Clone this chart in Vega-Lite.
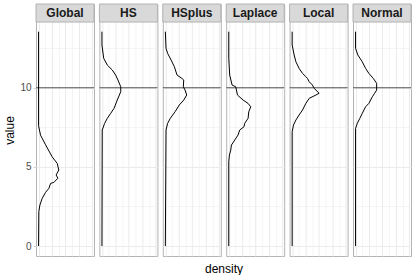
{
  "$schema": "https://vega.github.io/schema/vega-lite/v6.json",
  "padding": {"left": 3, "top": 3, "right": 3, "bottom": 0},
  "bounds": "flush",
  "background": "white",
  "config": {
    "font": "Liberation Sans",
    "view": {"stroke": "#B3B3B3", "strokeWidth": 1}
  },
  "data": {"values": [
    {"panel":"Global","value":13.54,"density":0},
    {"panel":"Global","value":7.6,"density":0},
    {"panel":"Global","value":7.0,"density":0.015},
    {"panel":"Global","value":6.4,"density":0.052},
    {"panel":"Global","value":5.64,"density":0.101},
    {"panel":"Global","value":5.22,"density":0.139},
    {"panel":"Global","value":4.8,"density":0.151},
    {"panel":"Global","value":4.49,"density":0.131},
    {"panel":"Global","value":4.28,"density":0.144},
    {"panel":"Global","value":4.02,"density":0.114},
    {"panel":"Global","value":3.96,"density":0.09},
    {"panel":"Global","value":3.64,"density":0.077},
    {"panel":"Global","value":3.39,"density":0.052},
    {"panel":"Global","value":3.01,"density":0.027},
    {"panel":"Global","value":2.59,"density":0.01},
    {"panel":"Global","value":2.17,"density":0.002},
    {"panel":"Global","value":0,"density":0},
    {"panel":"HS","value":13.54,"density":0},
    {"panel":"HS","value":12.7,"density":0},
    {"panel":"HS","value":11.86,"density":0.013},
    {"panel":"HS","value":11.43,"density":0.04},
    {"panel":"HS","value":11.12,"density":0.077},
    {"panel":"HS","value":10.8,"density":0.102},
    {"panel":"HS","value":10.49,"density":0.119},
    {"panel":"HS","value":10.06,"density":0.14},
    {"panel":"HS","value":9.75,"density":0.14},
    {"panel":"HS","value":9.22,"density":0.114},
    {"panel":"HS","value":8.7,"density":0.09},
    {"panel":"HS","value":8.38,"density":0.065},
    {"panel":"HS","value":8.07,"density":0.04},
    {"panel":"HS","value":7.75,"density":0.02},
    {"panel":"HS","value":7.33,"density":0.002},
    {"panel":"HS","value":0,"density":0},
    {"panel":"HSplus","value":13.54,"density":0},
    {"panel":"HSplus","value":12.49,"density":0.005},
    {"panel":"HSplus","value":12.17,"density":0.017},
    {"panel":"HSplus","value":11.75,"density":0.043},
    {"panel":"HSplus","value":11.33,"density":0.067},
    {"panel":"HSplus","value":10.8,"density":0.087},
    {"panel":"HSplus","value":10.63,"density":0.117},
    {"panel":"HSplus","value":10.49,"density":0.137},
    {"panel":"HSplus","value":10.06,"density":0.134},
    {"panel":"HSplus","value":9.85,"density":0.147},
    {"panel":"HSplus","value":9.54,"density":0.159},
    {"panel":"HSplus","value":9.22,"density":0.137},
    {"panel":"HSplus","value":8.91,"density":0.104},
    {"panel":"HSplus","value":8.48,"density":0.072},
    {"panel":"HSplus","value":8.07,"density":0.037},
    {"panel":"HSplus","value":7.75,"density":0.017},
    {"panel":"HSplus","value":7.33,"density":0.005},
    {"panel":"HSplus","value":0,"density":0},
    {"panel":"Laplace","value":13.54,"density":0},
    {"panel":"Laplace","value":11.86,"density":0},
    {"panel":"Laplace","value":10.8,"density":0.007},
    {"panel":"Laplace","value":10.17,"density":0.025},
    {"panel":"Laplace","value":10.06,"density":0.052},
    {"panel":"Laplace","value":9.54,"density":0.065},
    {"panel":"Laplace","value":9.22,"density":0.107},
    {"panel":"Laplace","value":9.01,"density":0.144},
    {"panel":"Laplace","value":8.8,"density":0.164},
    {"panel":"Laplace","value":8.48,"density":0.149},
    {"panel":"Laplace","value":8.07,"density":0.144},
    {"panel":"Laplace","value":7.75,"density":0.119},
    {"panel":"Laplace","value":7.54,"density":0.114},
    {"panel":"Laplace","value":7.33,"density":0.082},
    {"panel":"Laplace","value":7.01,"density":0.069},
    {"panel":"Laplace","value":6.7,"density":0.045},
    {"panel":"Laplace","value":6.38,"density":0.02},
    {"panel":"Laplace","value":6.06,"density":0.015},
    {"panel":"Laplace","value":5.75,"density":0.005},
    {"panel":"Laplace","value":5.33,"density":0},
    {"panel":"Laplace","value":0,"density":0},
    {"panel":"Local","value":13.54,"density":0},
    {"panel":"Local","value":12.7,"density":0},
    {"panel":"Local","value":12.07,"density":0.015},
    {"panel":"Local","value":11.64,"density":0.028},
    {"panel":"Local","value":11.22,"density":0.052},
    {"panel":"Local","value":10.91,"density":0.077},
    {"panel":"Local","value":10.7,"density":0.102},
    {"panel":"Local","value":10.59,"density":0.114},
    {"panel":"Local","value":10.38,"density":0.127},
    {"panel":"Local","value":10.17,"density":0.151},
    {"panel":"Local","value":9.96,"density":0.164},
    {"panel":"Local","value":9.65,"density":0.201},
    {"panel":"Local","value":9.54,"density":0.177},
    {"panel":"Local","value":9.33,"density":0.127},
    {"panel":"Local","value":9.01,"density":0.102},
    {"panel":"Local","value":8.59,"density":0.077},
    {"panel":"Local","value":8.28,"density":0.052},
    {"panel":"Local","value":7.96,"density":0.028},
    {"panel":"Local","value":7.64,"density":0.01},
    {"panel":"Local","value":7.22,"density":0},
    {"panel":"Local","value":0,"density":0},
    {"panel":"Normal","value":13.54,"density":0},
    {"panel":"Normal","value":12.49,"density":0},
    {"panel":"Normal","value":12.07,"density":0.017},
    {"panel":"Normal","value":11.64,"density":0.05},
    {"panel":"Normal","value":11.22,"density":0.075},
    {"panel":"Normal","value":10.91,"density":0.099},
    {"panel":"Normal","value":10.59,"density":0.132},
    {"panel":"Normal","value":10.28,"density":0.157},
    {"panel":"Normal","value":9.85,"density":0.157},
    {"panel":"Normal","value":9.65,"density":0.142},
    {"panel":"Normal","value":9.43,"density":0.125},
    {"panel":"Normal","value":9.01,"density":0.099},
    {"panel":"Normal","value":8.8,"density":0.075},
    {"panel":"Normal","value":8.38,"density":0.05},
    {"panel":"Normal","value":8.07,"density":0.032},
    {"panel":"Normal","value":7.75,"density":0.013},
    {"panel":"Normal","value":7.43,"density":0},
    {"panel":"Normal","value":0,"density":0}
  ]},
  "facet": {
    "column": {
      "field": "panel",
      "type": "nominal",
      "header": {
        "labels": false,
        "title": "density",
        "titleOrient": "bottom",
        "titleFontSize": 12,
        "titleFontWeight": "normal",
        "titleColor": "#000000",
        "titlePadding": -2
      }
    }
  },
  "spacing": 5.4,
  "spec": {
    "width": 58,
    "height": 252,
    "encoding": {
      "x": {
        "field": "density",
        "type": "quantitative",
        "scale": {"domain": [-0.019, 0.413], "nice": false, "zero": false},
        "axis": {
          "values": [0, 0.05, 0.1, 0.15, 0.2, 0.25, 0.3, 0.35, 0.4],
          "labels": false,
          "ticks": false,
          "domain": false,
          "title": null,
          "grid": true,
          "gridColor": "#EBEBEB",
          "gridWidth": {"condition": {"test": "abs(datum.value*10 - round(datum.value*10)) > 0.01", "value": 0.5}, "value": 1}
        }
      },
      "y": {
        "field": "value",
        "type": "quantitative",
        "scale": {"domain": [-0.63, 15.29], "nice": false, "zero": false},
        "axis": {
          "values": [0, 2.5, 5, 7.5, 10, 12.5],
          "labelExpr": "datum.value % 5 === 0 ? datum.label : ''",
          "labelFontSize": 10,
          "labelColor": "#4D4D4D",
          "labelPadding": 2,
          "tickColor": "#B3B3B3",
          "tickSize": 3,
          "tickWidth": 0.6,
          "tickOpacity": {"condition": {"test": "datum.value % 5 !== 0", "value": 0}, "value": 1},
          "domain": false,
          "grid": true,
          "gridColor": "#EBEBEB",
          "gridWidth": {"condition": {"test": "datum.value % 5 !== 0", "value": 0.5}, "value": 1},
          "title": "value",
          "titleFontSize": 12,
          "titleFontWeight": "normal",
          "titleColor": "#000000",
          "titlePadding": 3
        }
      }
    },
    "layer": [
      {
        "transform": [{"filter": "datum.value === 0"}],
        "mark": {"type": "rule", "color": "#555555", "strokeWidth": 1.2},
        "encoding": {"x": {"datum": -0.019}, "x2": {"datum": 0.413}, "y": {"datum": 10}}
      },
      {
        "mark": {"type": "line", "color": "#000000", "strokeWidth": 1, "interpolate": "linear"},
        "encoding": {"order": {"field": "value", "type": "quantitative"}}
      },
      {
        "transform": [{"filter": "datum.value === 0"}],
        "mark": {"type": "rect", "fill": "#D9D9D9", "stroke": "#B3B3B3", "strokeWidth": 1},
        "encoding": {
          "x": {"datum": -0.019},
          "x2": {"datum": 0.413},
          "y": {"datum": 14.15},
          "y2": {"datum": 15.29}
        }
      },
      {
        "transform": [{"filter": "datum.value === 0"}],
        "mark": {"type": "text", "fontSize": 12, "fontWeight": "bold", "color": "#1A1A1A", "align": "center", "baseline": "middle"},
        "encoding": {
          "x": {"datum": 0.197},
          "y": {"datum": 14.72},
          "text": {"field": "panel", "type": "nominal"}
        }
      }
    ]
  }
}
